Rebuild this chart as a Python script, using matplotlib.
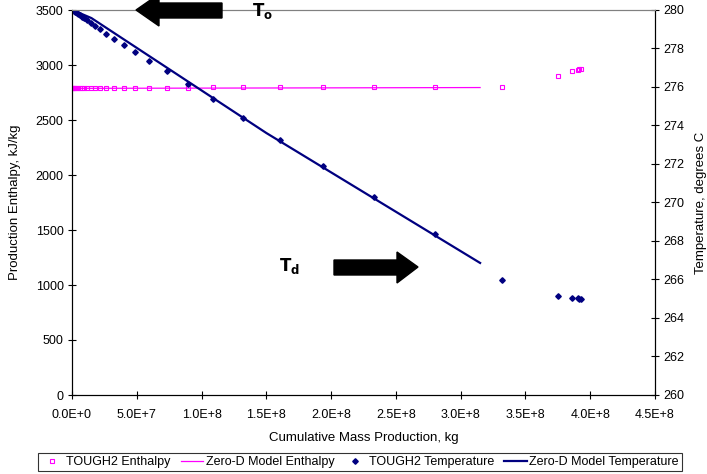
import matplotlib
matplotlib.use('Agg')
import matplotlib.pyplot as plt
from matplotlib.patches import Polygon

plt.rcParams['font.family'] = ['Liberation Sans', 'DejaVu Sans']
plt.rcParams['font.size'] = 9

# TOUGH2 results (cumulative mass, kg)
tough_mass = [0, 5e5, 1e6, 1.5e6, 2.5e6, 3.5e6, 4.5e6, 6e6, 7.5e6, 9e6,
              1.13e7, 1.47e7, 1.78e7, 2.16e7, 2.62e7, 3.24e7, 4.01e7, 4.86e7,
              5.94e7, 7.33e7, 8.95e7, 1.088e8, 1.32e8, 1.605e8, 1.937e8,
              2.331e8, 2.802e8, 3.319e8, 3.751e8, 3.863e8, 3.902e8, 3.917e8,
              3.925e8]
tough_enthalpy = [2790, 2790, 2790, 2790, 2790, 2790, 2790, 2790, 2790, 2790,
                  2791, 2791, 2792, 2792, 2792, 2793, 2793, 2794,
                  2794, 2795, 2795, 2796, 2796, 2797, 2797,
                  2798, 2798, 2797, 2901, 2945, 2955, 2964,
                  2964]
tough_temp = [280.0, 280.0, 279.98, 279.95, 279.9, 279.85, 279.8, 279.72,
              279.65, 279.58, 279.5, 279.32, 279.17, 279.01, 278.75, 278.49,
              278.18, 277.82, 277.35, 276.83, 276.16, 275.38, 274.39, 273.25,
              271.9, 270.29, 268.36, 265.97, 265.14, 265.04, 265.04, 264.99,
              264.97]

# Zero-D model
zerod_mass = [0, 3e6, 8e6, 1.5e7, 1.5e8, 3.15e8]
zerod_enthalpy = [2786, 2787, 2788, 2788, 2791, 2795]
zerod_temp = [280.0, 279.93, 279.78, 279.58, 273.61, 266.86]

x_ticks = [0, 5e7, 1e8, 1.5e8, 2e8, 2.5e8, 3e8, 3.5e8, 4e8, 4.5e8]
x_labels = ['0.0E+0', '5.0E+7', '1.0E+8', '1.5E+8', '2.0E+8', '2.5E+8',
            '3.0E+8', '3.5E+8', '4.0E+8', '4.5E+8']

W, H = 707, 474
fig = plt.figure(figsize=(W / 100, H / 100), dpi=100)
ax = fig.add_axes([72 / W, 1 - 395 / H, (655 - 72) / W, (395 - 10) / H])
ax2 = ax.twinx()

magenta = '#FF00FF'
navy = '#000080'

h1, = ax.plot(tough_mass, tough_enthalpy, ls='none', marker='s', ms=3.5,
              mfc='none', mec=magenta, mew=0.8, label='TOUGH2 Enthalpy')
h2, = ax.plot(zerod_mass, zerod_enthalpy, color=magenta, lw=0.9,
              label='Zero-D Model Enthalpy')
h3, = ax2.plot(tough_mass, tough_temp, ls='none', marker='D', ms=2.8,
               color=navy, label='TOUGH2 Temperature')
h4, = ax2.plot(zerod_mass, zerod_temp, color=navy, lw=1.6,
               label='Zero-D Model Temperature')

ax.set_xlim(0, 4.5e8)
ax.set_ylim(0, 3500)
ax2.set_ylim(260, 280)
ax.set_xticks(x_ticks)
ax.set_xticklabels(x_labels)
ax.set_yticks(range(0, 3501, 500))
ax2.set_yticks(range(260, 281, 2))

for a in (ax, ax2):
    a.tick_params(direction='inout', length=6, width=0.8, color='black',
                  labelsize=9, pad=3)
    for s in a.spines.values():
        s.set_linewidth(0.8)
        s.set_color('black')
    a.spines['top'].set_color('#808080')
ax.tick_params(axis='x', pad=7)

ax.set_xlabel('Cumulative Mass Production, kg', fontsize=9.5, labelpad=8)
ax.set_ylabel('Production Enthalpy, kJ/kg', fontsize=9.5)
ax2.set_ylabel('Temperature, degrees C', fontsize=9.5)
ax.yaxis.set_label_coords(-0.087, 0.5)
ax2.yaxis.set_label_coords(1.068, 0.5)


def px(x, y):
    return (x / W, 1 - y / H)


# block arrows and annotations
left_arrow = [px(136, 10), px(159, -6), px(159, 3), px(222, 3), px(222, 18),
              px(159, 18), px(159, 26)]
right_arrow = [px(418, 267), px(397, 252), px(397, 260), px(334, 260),
               px(334, 275), px(397, 275), px(397, 283)]
for pts in (left_arrow, right_arrow):
    fig.patches.append(Polygon(pts, closed=True, facecolor='black',
                               edgecolor='black', transform=fig.transFigure))
fig.text(*px(252, 11), r'$\mathbf{T_o}$', fontsize=12, ha='left', va='center')
fig.text(*px(279, 266), r'$\mathbf{T_d}$', fontsize=12, ha='left', va='center')

leg = fig.legend(handles=[h1, h2, h3, h4], loc='center', ncol=4,
                 bbox_to_anchor=px(360, 462), fontsize=9, frameon=True,
                 fancybox=False, edgecolor='black', borderpad=0.25,
                 handlelength=1.8, handletextpad=0.2, columnspacing=0.8)
leg.get_frame().set_linewidth(0.8)

plt.savefig('out.png', dpi=100)
